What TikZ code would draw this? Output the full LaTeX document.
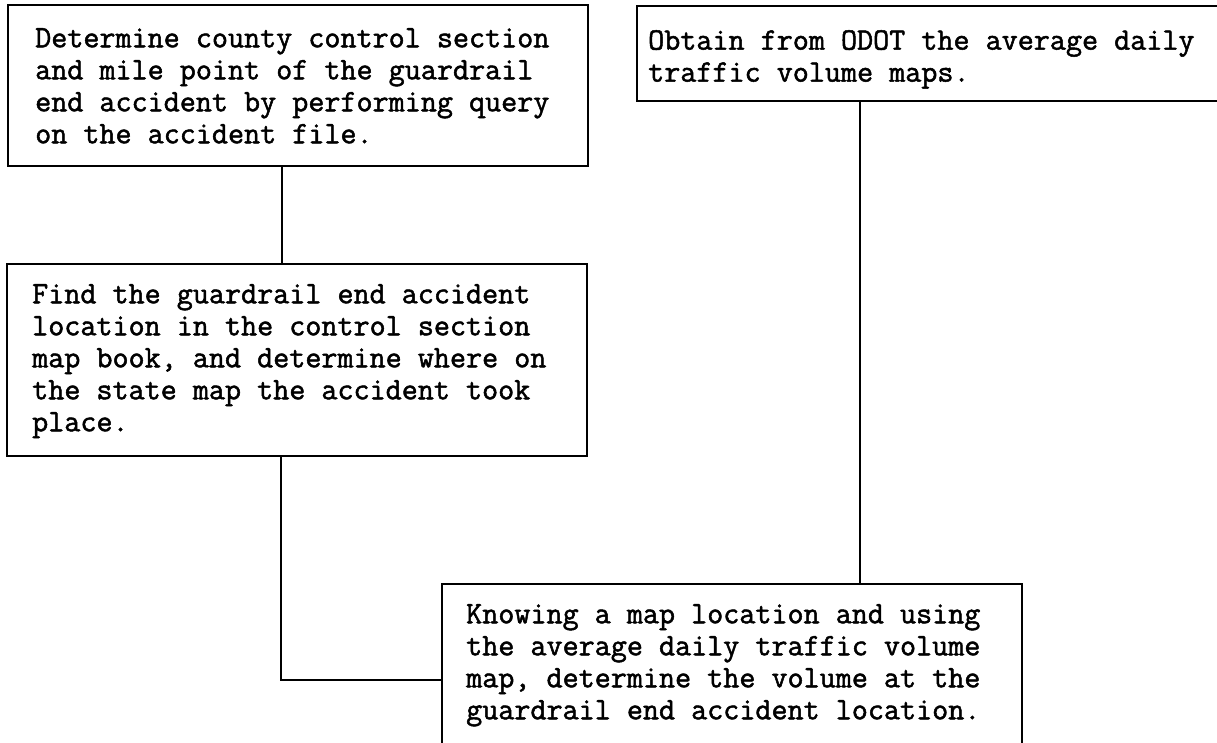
\documentclass[tikz,border=0pt]{standalone}
\usepackage{fontspec}
\newfontfamily\boxfont{Latin Modern Mono}[FakeBold=1.6]
\tikzset{
  stepbox/.style={draw=black, line width=2.4pt, rectangle, inner sep=0pt, anchor=north west},
  steptext/.style={anchor=north west, inner sep=0pt, align=left, text=black,
    font=\boxfont\fontsize{31.2}{32}\selectfont},
  link/.style={draw=black, line width=2pt}
}
\begin{document}
\begin{tikzpicture}[x=1pt, y=-1pt]
\clip (0,0) rectangle (1217,742);
\useasboundingbox (0,0) rectangle (1217,742);
\fill[white] (0,0) rectangle (1217,742);
% boxes
\node[stepbox, minimum width=580pt, minimum height=161pt] (b1) at (7,4) {};
\node[stepbox, minimum width=610pt, minimum height=95pt] (b2) at (636,5) {};
\node[stepbox, minimum width=580pt, minimum height=192pt] (b3) at (6,263) {};
\node[stepbox, minimum width=580pt, minimum height=200pt] (b4) at (441,583) {};
% texts
\node[steptext] (t1) at (35,28) {Determine county control section\\and mile point of the guardrail\\end accident by performing query\\on the accident file.};
\node[steptext] (t2) at (648,30) {Obtain from ODOT the average daily\\traffic volume maps.};
\node[steptext] (t3) at (32,284) {Find the guardrail end accident\\location in the control section\\map book, and determine where on\\the state map the accident took\\place.};
\node[steptext] (t4) at (466,604) {Knowing a map location and using\\the average daily traffic volume\\map, determine the volume at the\\guardrail end accident location.};
% connector guides
\coordinate (x1) at (282,0);
\coordinate (x2) at (860,0);
\coordinate (k) at (281,680);
\draw[link] (b1.south -| x1) -- (b3.north -| x1);
\draw[link] (b2.south -| x2) -- (b4.north -| x2);
\draw[link] (b3.south -| k) |- (b4.west |- k);
\end{tikzpicture}
\end{document}
